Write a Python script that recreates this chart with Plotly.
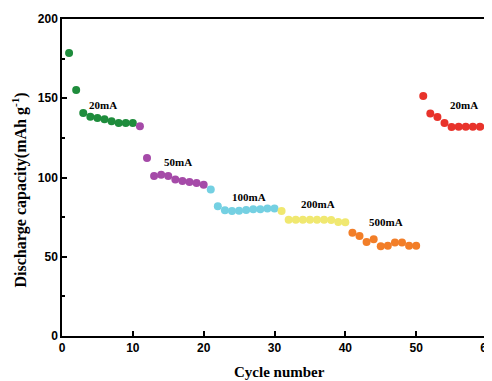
import plotly.graph_objects as go

cycles_20a = list(range(1, 11))
cap_20a = [178.5, 155.2, 140.7, 138.4, 137.5, 136.7, 135.5, 134.4, 134.4, 134.4]
cycles_50 = list(range(11, 21))
cap_50 = [132.3, 112.3, 101.0, 101.8, 101.0, 98.7, 97.8, 97.2, 96.5, 95.5]
cycles_100 = list(range(21, 31))
cap_100 = [92.4, 81.8, 79.3, 78.9, 79.0, 79.5, 80.0, 80.0, 80.5, 80.4]
cycles_200 = list(range(31, 41))
cap_200 = [78.8, 73.4, 73.4, 73.4, 73.4, 73.4, 73.4, 73.2, 71.9, 71.7]
cycles_500 = list(range(41, 51))
cap_500 = [65.2, 63.1, 59.3, 61.0, 56.6, 57.0, 59.0, 59.0, 57.0, 57.0]
cycles_20b = list(range(51, 61))
cap_20b = [151.4, 140.3, 138.2, 134.4, 131.9, 132.0, 132.0, 132.0, 132.0, 132.0]

groups = [
    (cycles_20a, cap_20a, "#1e8c3c"),
    (cycles_50, cap_50, "#a54aa8"),
    (cycles_100, cap_100, "#74d0e2"),
    (cycles_200, cap_200, "#f0e870"),
    (cycles_500, cap_500, "#f27e28"),
    (cycles_20b, cap_20b, "#e8332b"),
]

label_text = ["20mA", "50mA", "100mA", "200mA", "500mA", "20mA"]
label_x = [5.8, 16.4, 26.4, 36.1, 45.8, 56.7]
label_y = [146, 109.5, 87.7, 83.5, 71.7, 145.7]

x_title = "Cycle number"
y_title = "Discharge capacity(mAh g<sup>-1</sup>)"

fig = go.Figure()
for xs, ys, c in groups:
    fig.add_trace(go.Scatter(x=xs, y=ys, mode="markers",
                             marker=dict(color=c, size=8, line=dict(width=0)),
                             showlegend=False))

for t, x, y in zip(label_text, label_x, label_y):
    fig.add_annotation(x=x, y=y, text=t, showarrow=False,
                       font=dict(family="Liberation Serif", size=11, color="black", weight="bold"))

fig.add_annotation(xref="paper", yref="paper", x=0.5106, y=-0.1136, text=x_title,
                   showarrow=False, xanchor="center", yanchor="middle",
                   font=dict(family="Liberation Serif", size=15, color="black", weight="bold"))
fig.add_annotation(xref="paper", yref="paper", x=-0.099, y=0.462, text=y_title,
                   showarrow=False, xanchor="center", yanchor="middle", textangle=-90,
                   font=dict(family="Liberation Serif", size=16, color="black", weight="bold"))

axis_common = dict(showline=True, linecolor="black", linewidth=1.5, mirror=True,
                   showgrid=False, zeroline=False, ticks="inside", ticklen=5,
                   tickcolor="black", tickwidth=1.5, automargin=False,
                   ticklabeloverflow="allow",
                   tickfont=dict(family="Liberation Sans", size=12, color="black", weight="bold"))

fig.update_xaxes(range=[0, 60], dtick=10, tick0=0, **axis_common)
fig.update_yaxes(range=[0, 200], dtick=50, tick0=0,
                 minor=dict(dtick=25, ticks="inside", ticklen=3, tickcolor="black", tickwidth=1.5),
                 **axis_common)

fig.update_layout(width=484, height=373, margin=dict(l=54, r=5, t=11, b=45, autoexpand=False),
                  plot_bgcolor="white", paper_bgcolor="white")

fig.write_html("out.html")
